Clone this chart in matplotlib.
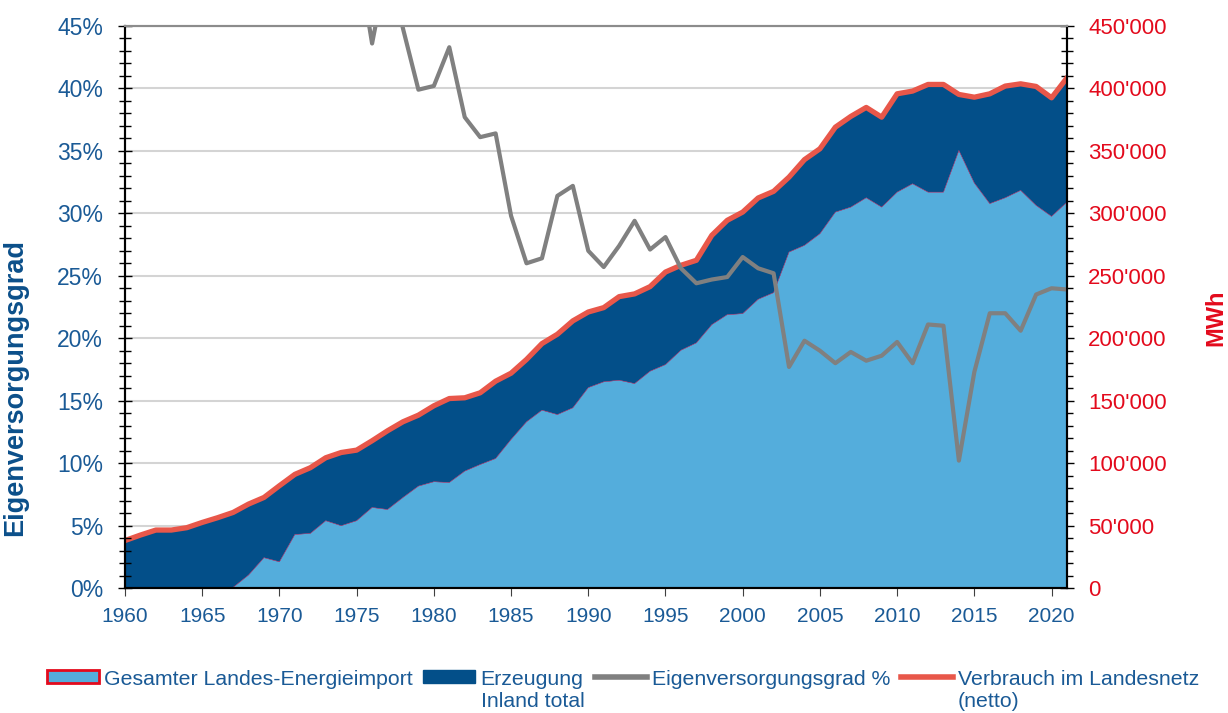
import matplotlib
matplotlib.use('Agg')
import matplotlib.pyplot as plt
from matplotlib.patches import Patch
from matplotlib.lines import Line2D
from matplotlib.ticker import MultipleLocator, FuncFormatter

plt.rcParams['font.family'] = ['Liberation Sans', 'DejaVu Sans']

years = list(range(1960, 2022))

# Verbrauch im Landesnetz (netto), MWh
verbrauch = [38000, 42400, 46400, 46400, 48300, 52500, 56300, 60500, 67200, 72500,
             81900, 91000, 96300, 104300, 108500, 110400, 117900, 125900, 133100, 138400,
             145900, 151700, 152300, 156300, 165600, 172000, 183000, 195700, 203200, 213900,
             221000, 224500, 233300, 235500, 241300, 253000, 258400, 262400, 282400, 294400,
             301000, 312300, 317600, 329000, 343000, 351700, 369000, 377600, 384800, 377000,
             395700, 397900, 403200, 403200, 395200, 393000, 395700, 401900, 403700, 401600,
             392500, 408500]

# Gesamter Landes-Energieimport, MWh
energieimport = [0, 0, 0, 0, 0, 0, 0, 500, 10400, 24300,
                 21000, 42900, 43700, 53900, 49900, 53900, 64500, 62900, 72500, 81600,
                 85100, 84500, 93600, 98900, 103700, 119000, 133100, 142400, 138900, 144300,
                 160500, 165100, 166400, 163700, 173600, 178900, 190400, 196300, 210900, 218900,
                 219700, 231200, 236500, 269000, 274400, 283700, 301000, 305000, 312500, 305000,
                 317000, 323700, 317000, 317000, 350400, 324300, 307800, 312500, 318400, 306400,
                 297600, 309000]

# Erzeugung Inland total, MWh
erzeugung = [38000, 42400, 46400, 46400, 48300, 52500, 56300, 60000, 56800, 48200,
             60900, 48100, 52600, 50400, 58600, 56500, 53400, 63000, 60600, 56800,
             60800, 67200, 58700, 57400, 61900, 53000, 49900, 53300, 64300, 69600,
             60500, 59400, 66900, 71800, 67700, 74100, 68000, 66100, 71500, 75500,
             81300, 81100, 81100, 60000, 68600, 68000, 68000, 72600, 72300, 72000,
             78700, 74200, 86200, 86200, 44800, 68700, 87900, 89400, 85300, 95200,
             94900, 99500]

# Eigenversorgungsgrad, %
eigenversorgung = [100, 100, 100, 100, 100, 100, 100, 99.2, 84.5, 66.5,
                   74.4, 52.9, 54.6, 48.3, 54.0, 51.2, 43.6, 50.0, 44.8, 39.9,
                   40.2, 43.3, 37.7, 36.1, 36.4, 29.8, 26.0, 26.4, 31.4, 32.2,
                   27.0, 25.7, 27.4, 29.4, 27.1, 28.1, 25.6, 24.4, 24.7, 24.9,
                   26.5, 25.6, 25.2, 17.7, 19.8, 19.0, 18.0, 18.9, 18.2, 18.6,
                   19.7, 18.0, 21.1, 21.0, 10.2, 17.3, 22.0, 22.0, 20.6, 23.5,
                   24.0, 23.9]

light_blue = '#54ADDC'
dark_blue = '#034F89'
grey = '#808080'
red_line = '#E8574A'
red_text = '#E30A1C'
blue_text = '#1A5A96'

fig = plt.figure(figsize=(12.28, 7.13), dpi=100)
ax = fig.add_axes([125 / 1228, 125 / 713, 942 / 1228, 562 / 713])
ax2 = ax.twinx()

# MWh series on the right axis
ax2.stackplot(years, energieimport, erzeugung, colors=[light_blue, dark_blue],
              edgecolor=['#B0306A', dark_blue], linewidth=0.3)
ax2.plot(years, verbrauch, color=red_line, lw=3.8)
ax2.set_ylim(0, 450000)
ax2.yaxis.set_major_locator(MultipleLocator(50000))
ax2.yaxis.set_minor_locator(MultipleLocator(10000))
ax2.yaxis.set_major_formatter(FuncFormatter(lambda v, p: f"{v:,.0f}".replace(',', "'")))
ax2.grid(axis='y', color='#D4D4D4', lw=1.5)
ax2.set_axisbelow(True)
ax2.tick_params(axis='y', which='both', direction='inout', colors='black',
                labelcolor=red_text, labelsize=16, pad=10.5, width=1)
ax2.tick_params(axis='y', which='major', length=9.5)
ax2.tick_params(axis='y', which='minor', length=8)
ax2.set_ylabel('MWh', color=red_text, fontsize=17, fontweight='bold')
ax2.yaxis.set_label_coords(1.1455, 0.481)

# percentage line on the left axis, drawn on top
ax.set_zorder(ax2.get_zorder() + 1)
ax.patch.set_visible(False)
ax.plot(years, eigenversorgung, color=grey, lw=3)
ax.set_ylim(0, 45)
ax.set_xlim(1960, 2021)
ax.yaxis.set_major_locator(MultipleLocator(5))
ax.yaxis.set_minor_locator(MultipleLocator(1))
ax.yaxis.set_major_formatter(FuncFormatter(lambda v, p: f"{v:.0f}%"))
ax.tick_params(axis='y', which='both', direction='inout', colors='black',
               labelcolor=blue_text, labelsize=16.5, pad=11, width=1)
ax.tick_params(axis='y', which='major', length=9.5)
ax.tick_params(axis='y', which='minor', length=8)
ax.xaxis.set_major_locator(MultipleLocator(5))
ax.tick_params(axis='x', direction='out', length=6, colors='#404040',
               labelcolor=blue_text, labelsize=15, pad=8)
ax.set_ylabel('Eigenversorgungsgrad', color='#0B4F8A', fontsize=19.5, fontweight='bold')
ax.yaxis.set_label_coords(-0.103, 0.357)

for a in (ax, ax2):
    a.spines['top'].set_color('#8C8C8C')
    a.spines['top'].set_linewidth(1.5)
    for s in ('left', 'right', 'bottom'):
        a.spines[s].set_color('black')
        a.spines[s].set_linewidth(1.5)

handles = [Patch(facecolor=light_blue, edgecolor=red_text, linewidth=2),
           Patch(facecolor=dark_blue, edgecolor=dark_blue),
           Line2D([], [], color=grey, lw=4),
           Line2D([], [], color=red_line, lw=4)]
labels = ['Gesamter Landes-Energieimport', 'Erzeugung\nInland total',
          'Eigenversorgungsgrad %', 'Verbrauch im Landesnetz\n(netto)']
leg = fig.legend(handles, labels, loc='upper left', bbox_to_anchor=(47 / 1228, 43 / 713),
                 ncol=4, frameon=False, fontsize=15.3, handlelength=2.45,
                 handleheight=0.6, handletextpad=0.25, columnspacing=0.48,
                 borderpad=0, borderaxespad=0, labelspacing=0.2)
for t in leg.get_texts():
    t.set_color(blue_text)
leg._legend_handle_box.align = 'top'
for col in leg._legend_handle_box.get_children():
    for entry in col.get_children():
        entry.align = 'top'

fig.savefig('out.png', dpi=100, facecolor='white')
